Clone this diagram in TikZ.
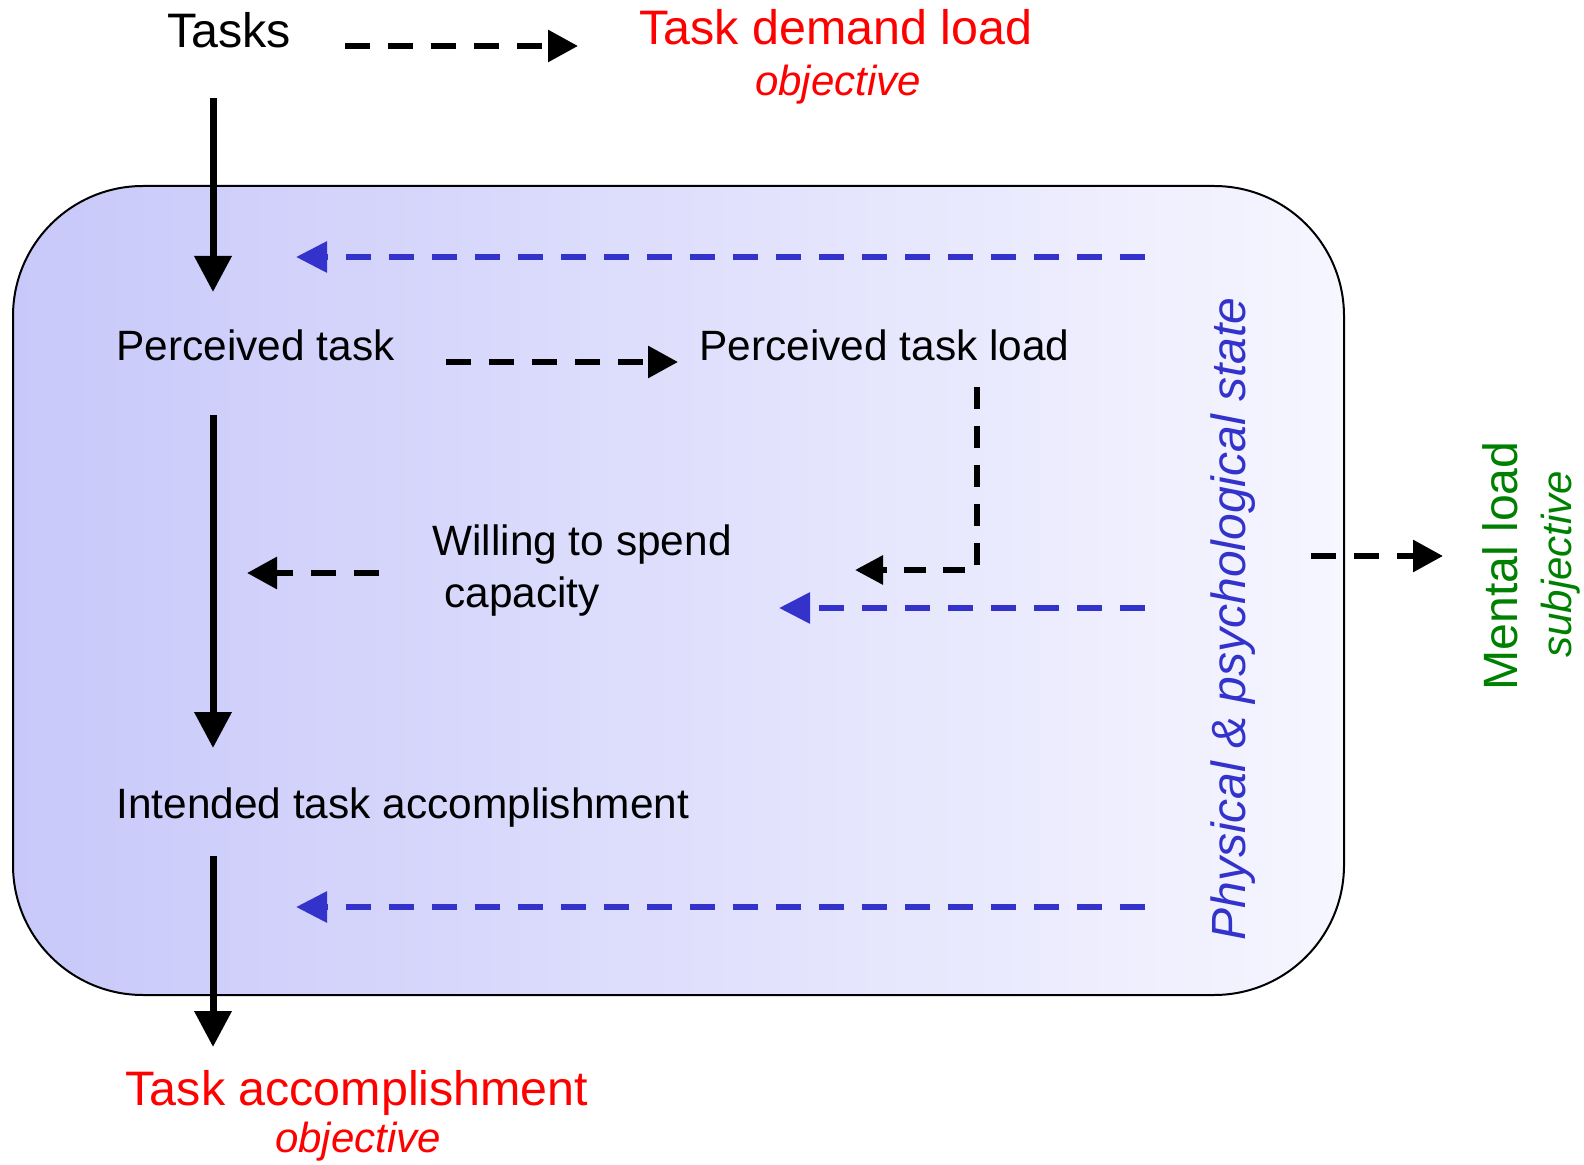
\documentclass[tikz,border=0pt]{standalone}
\usepackage{fontspec}
\setmainfont{Liberation Sans}
\usetikzlibrary{arrows.meta}
\definecolor{boxL}{RGB}{200,200,250}
\definecolor{boxR}{RGB}{246,246,255}
\definecolor{stateblue}{RGB}{51,51,204}
\definecolor{tred}{RGB}{255,0,0}
\definecolor{mgreen}{RGB}{0,128,0}
\begin{document}
\begin{tikzpicture}[x=0.5pt,y=-0.5pt,
  lbl/.style={inner sep=0pt, anchor=base west, font=\fontsize{21.2}{24}\selectfont},
  biglbl/.style={inner sep=0pt, font=\fontsize{24.2}{28}\selectfont},
  objlbl/.style={inner sep=0pt, anchor=base, text=tred, font=\fontsize{21}{24}\selectfont\itshape},
  solidarrow/.style={line width=3.5pt, -{Triangle[length=18pt,width=18pt]}},
  dasharrow/.style={line width=3pt, dash pattern=on 12.5pt off 9pt, -{Triangle[length=15pt,width=15.5pt]}},
  bluearrow/.style={draw=stateblue, line width=3pt, dash pattern=on 12.5pt off 9pt, -{Triangle[length=15.5pt,width=15pt]}},
]
\path[use as bounding box] (0,0) rectangle (1584,1165);

% state box
\node[draw=black, line width=1pt, rounded corners=65pt, left color=boxL, right color=boxR,
  minimum width=665.5pt, minimum height=404.5pt, inner sep=0pt] (statebox) at (678.5,590.5) {};

% texts
\node[biglbl, anchor=base west] (tasks) at (167,48) {Tasks};
\node[biglbl, anchor=base, text=tred] (tdl) at (836,45) {Task demand load};
\node[objlbl] (obj1) at (838,96) {objective};
\node[lbl] (pt) at (116,361) {Perceived task};
\node[lbl] (ptl) at (699,361) {Perceived task load};
\node[lbl] (will) at (432,556) {Willing to spend};
\node[lbl] (cap) at (444,607) {capacity};
\node[lbl] (ita) at (116,818) {Intended task accomplishment};
\node[biglbl, anchor=base, text=tred] (ta) at (357,1105) {Task accomplishment};
\node[objlbl] (obj2) at (358,1152) {objective};
\node[rotate=90, anchor=base west, inner sep=0pt, text=stateblue, font=\fontsize{24}{28}\selectfont\itshape] (phys) at (1245,941) {Physical \& psychological state};
\node[rotate=90, anchor=base west, inner sep=0pt, text=mgreen, font=\fontsize{24.1}{28}\selectfont] (ml) at (1517,691) {Mental load};
\node[rotate=90, anchor=base west, inner sep=0pt, text=mgreen, font=\fontsize{21}{24}\selectfont\itshape] (subj) at (1571,658) {subjective};

% connector end points
\coordinate (a1s) at (213,98);   \coordinate (a1e) at (213,292);
\coordinate (a2s) at (213,415);  \coordinate (a2e) at (213,748);
\coordinate (a3s) at (213,856);  \coordinate (a3e) at (213,1047);
\coordinate (d1s) at (345,46);   \coordinate (d1e) at (578,46);
\coordinate (d2s) at (446,362);  \coordinate (d2e) at (678,362);
\coordinate (d3s) at (977,387);  \coordinate (d3m) at (977,570); \coordinate (d3e) at (855,570);
\coordinate (d4s) at (379,573);  \coordinate (d4e) at (247,573);
\coordinate (d5s) at (1311,556); \coordinate (d5e) at (1443,556);
\coordinate (b1s) at (1145,257); \coordinate (b1e) at (296,257);
\coordinate (b2s) at (1145,608); \coordinate (b2e) at (779,608);
\coordinate (b3s) at (1145,907); \coordinate (b3e) at (296,907);

% solid arrows
\draw[solidarrow] (a1s) -- (a1e);
\draw[solidarrow] (a2s) -- (a2e);
\draw[solidarrow] (a3s) -- (a3e);

% black dashed arrows
\draw[dasharrow] (d1s) -- (d1e);
\draw[dasharrow] (d2s) -- (d2e);
\draw[dasharrow, dash pattern=on 11pt off 8.5pt, -{Triangle[length=14pt,width=14pt]}] (d3s) -- (d3m) -- (d3e);
\draw[dasharrow] (d4s) -- (d4e);
\draw[dasharrow] (d5s) -- (d5e);

% blue dashed arrows
\draw[bluearrow] (b1s) -- (b1e);
\draw[bluearrow] (b2s) -- (b2e);
\draw[bluearrow] (b3s) -- (b3e);
\end{tikzpicture}
\end{document}
